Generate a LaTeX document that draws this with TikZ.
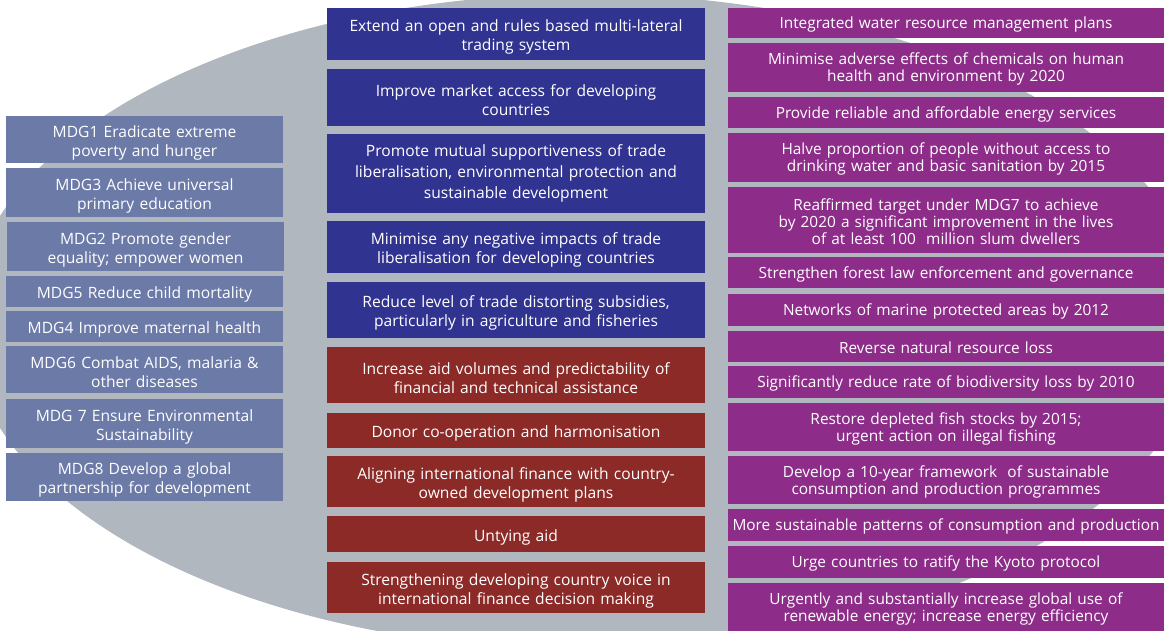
\documentclass[tikz,border=0pt]{standalone}
\usepackage{fontspec}
\setmainfont{Open Sans}
\definecolor{ovalgray}{HTML}{B1B7BE}
\definecolor{mdgblue}{HTML}{6C7AA8}
\definecolor{tradeblue}{HTML}{313390}
\definecolor{aidred}{HTML}{8B2A27}
\definecolor{envpurple}{HTML}{8D2D89}
\newcommand{\padheight}{18pt}
\begin{document}
\begin{tikzpicture}[x=1pt, y=-1pt,
    every node/.style={rectangle, inner xsep=0pt, inner ysep=0pt, align=center, text=white, font=\fontsize{15.6}{19}\selectfont, execute at begin node={\rule{0pt}{\padheight}}},
    pad/.style={/utils/exec={\def\padheight{#1}}},
    mdgbox/.style={fill=mdgblue, text width=277pt},
    tradebox/.style={fill=tradeblue, text width=378pt},
    aidbox/.style={fill=aidred, text width=378pt},
    envbox/.style={fill=envpurple, text width=436pt, font=\fontsize{15.4}{17}\selectfont, pad=15pt}]
        \useasboundingbox (0,0) rectangle (1164,631);
        \clip (0,0) rectangle (1164,631);
        \fill[ovalgray] (585,322) ellipse [x radius=618, y radius=328];
        \node[mdgbox, minimum height=47pt] (m1) at (144.5,139.5) {MDG1 Eradicate extreme\\poverty and hunger};
        \node[mdgbox, minimum height=49pt] (m3) at (144.5,192.5) {MDG3 Achieve universal\\primary education};
        \node[mdgbox, minimum height=49pt] (m2) at (145.5,246.5) {MDG2 Promote gender\\equality; empower women};
        \node[mdgbox, minimum height=31pt] (m5) at (144.5,291.5) {MDG5 Reduce child mortality};
        \node[mdgbox, minimum height=31pt] (m4) at (144.5,326.5) {MDG4 Improve maternal health};
        \node[mdgbox, minimum height=47pt] (m6) at (144.5,369.5) {MDG6 Combat AIDS, malaria \&\\other diseases};
        \node[mdgbox, minimum height=49pt] (m7) at (144.5,423.5) {MDG 7 Ensure Environmental\\Sustainability};
        \node[mdgbox, minimum height=48pt] (m8) at (144.5,477) {MDG8 Develop a global\\partnership for development};
        \node[tradebox, minimum height=52pt] (t1) at (516,34) {Extend an open and rules based multi-lateral\\trading system};
        \node[tradebox, minimum height=57pt] (t2) at (516,97.5) {Improve market access for developing\\countries};
        \node[tradebox, minimum height=79pt, font=\fontsize{15.6}{21}\selectfont, pad=12pt] (t3) at (516,173.5) {Promote mutual supportiveness of trade\\liberalisation, environmental protection and\\sustainable development};
        \node[tradebox, minimum height=52pt] (t4) at (516,247) {Minimise any negative impacts of trade\\liberalisation for developing countries};
        \node[tradebox, minimum height=56pt] (t5) at (516,310) {Reduce level of trade distorting subsidies,\\particularly in agriculture and fisheries};
        \node[aidbox, minimum height=56pt] (a1) at (516,375) {Increase aid volumes and predictability of\\financial and technical assistance};
        \node[aidbox, minimum height=35pt] (a2) at (516,430.5) {Donor co-operation and harmonisation};
        \node[aidbox, minimum height=51pt] (a3) at (516,481.5) {Aligning international finance with country-\\owned development plans};
        \node[aidbox, minimum height=36pt] (a4) at (516,534) {Untying aid};
        \node[aidbox, minimum height=51pt] (a5) at (516,587.5) {Strengthening developing country voice in\\international finance decision making};
        \node[envbox, minimum height=30pt] (e1) at (946,23) {Integrated water resource management plans};
        \node[envbox, minimum height=49pt] (e2) at (946,67.5) {Minimise adverse effects of chemicals on human\\health and environment by 2020};
        \node[envbox, minimum height=31pt] (e3) at (946,112.5) {Provide reliable and affordable energy services};
        \node[envbox, minimum height=49pt] (e4) at (946,157.5) {Halve proportion of people without access to\\drinking water and basic sanitation by 2015};
        \node[envbox, minimum height=66pt] (e5) at (946,220) {Reaffirmed target under MDG7 to achieve\\by 2020 a significant improvement in the lives\\of at least 100\ \ million slum dwellers};
        \node[envbox, minimum height=31pt] (e6) at (946,272.5) {Strengthen forest law enforcement and governance};
        \node[envbox, minimum height=32pt] (e7) at (946,310) {Networks of marine protected areas by 2012};
        \node[envbox, minimum height=31pt] (e8) at (946,346.5) {Reverse natural resource loss};
        \node[envbox, minimum height=32pt] (e9) at (946,382) {Significantly reduce rate of biodiversity loss by 2010};
        \node[envbox, minimum height=48pt] (e10) at (946,427) {Restore depleted fish stocks by 2015;\\urgent action on illegal fishing};
        \node[envbox, minimum height=48pt] (e11) at (946,480) {Develop a 10-year framework\ \ of sustainable\\consumption and production programmes};
        \node[envbox, minimum height=32pt] (e12) at (946,525) {More sustainable patterns of consumption and production};
        \node[envbox, minimum height=32pt] (e13) at (946,562) {Urge countries to ratify the Kyoto protocol};
        \node[envbox, minimum height=48pt] (e14) at (946,607) {Urgently and substantially increase global use of\\renewable energy; increase energy efficiency};
\end{tikzpicture}
\end{document}
